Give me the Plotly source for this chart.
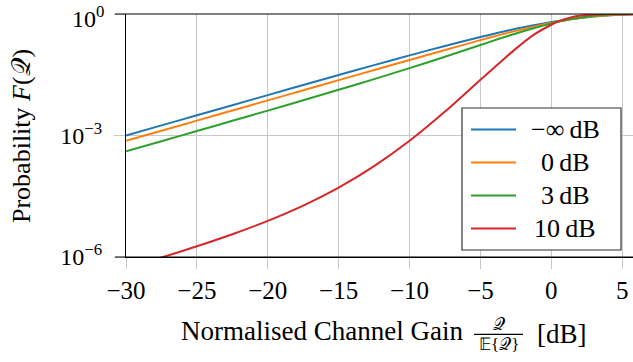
import plotly.graph_objects as go

# ---------------- data ----------------
x_db = [-30, -27.5, -25, -22.5, -20, -17.5, -15, -12.5, -10, -7.5, -5, -3.75,
        -2.5, -1.25, 0, 0.5, 1, 1.5, 2, 2.5, 3, 4, 5, 6]

f_minf = [9.995e-4, 1.776e-3, 3.157e-3, 5.607e-3, 9.950e-3, 1.763e-2, 3.113e-2,
          5.468e-2, 9.516e-2, 0.1629, 0.2711, 0.3440, 0.4301, 0.5276, 0.6321,
          0.6744, 0.7161, 0.7565, 0.7950, 0.8311, 0.8640, 0.9189, 0.9577, 0.9813]

f_0db = [7.358e-4, 1.308e-3, 2.327e-3, 4.137e-3, 7.358e-3, 1.308e-2, 2.326e-2,
         4.133e-2, 7.335e-2, 0.1296, 0.2264, 0.297, 0.3835, 0.488, 0.6057,
         0.656, 0.7034, 0.752, 0.7963, 0.838, 0.8759, 0.935, 0.970, 0.988]

f_3db = [4.066e-4, 7.239e-4, 1.290e-3, 2.302e-3, 4.120e-3, 7.409e-3, 1.343e-2,
         2.465e-2, 4.610e-2, 8.82e-2, 0.1718, 0.241, 0.3305, 0.445, 0.5853,
         0.645, 0.700, 0.758, 0.8101, 0.858, 0.900, 0.957, 0.985, 0.996]

f_10db = [5.24e-7, 9.68e-7, 1.836e-6, 3.647e-6, 7.79e-6, 1.858e-5, 5.167e-5,
          1.747e-4, 7.387e-4, 3.892e-3, 2.381e-2, 0.058, 0.1396, 0.305, 0.5431,
          0.655, 0.755, 0.84, 0.905, 0.945, 0.975, 0.996, 0.9997, 0.99999]

series_labels = ["\u2212\u221e\u2009dB", "0\u2009dB", "3\u2009dB", "10\u2009dB"]
series_values = [f_minf, f_0db, f_3db, f_10db]
series_colors = ["#1f77b4", "#ff7f0e", "#2ca02c", "#d62728"]

x_ticks = [-30, -25, -20, -15, -10, -5, 0, 5]
x_ticktext = ["\u221230", "\u221225", "\u221220", "\u221215", "\u221210", "\u22125", "0", "5"]
y_ticks = [1e-6, 1e-3, 1e0]
y_ticktext = ["10<sup>\u22126</sup>", "10<sup>\u22123</sup>", ""]
y_top_label = "10<sup>0</sup>"

# ---------------- layout geometry ----------------
W, H = 633, 362
ML, MR, MT, MB = 126, 0, 14, 105
PW, PH = W - ML - MR, H - MT - MB
FONT = "Liberation Serif, Times New Roman, serif"


def px_x(px):
    return (px - ML) / PW


def px_y(py):
    return (H - MB - py) / PH


fig = go.Figure()
for vals, col in zip(series_values, series_colors):
    fig.add_trace(go.Scatter(x=x_db, y=vals, mode="lines",
                             line=dict(color=col, width=2, shape="spline", smoothing=0.6),
                             showlegend=False, hoverinfo="skip"))

grid = "#c8c8c8"
fig.update_layout(
    width=W, height=H,
    margin=dict(l=ML, r=MR, t=MT, b=MB, autoexpand=False),
    paper_bgcolor="white", plot_bgcolor="white",
    font=dict(family=FONT, color="black", size=24),
    showlegend=False,
    xaxis=dict(range=[-30, 5.76], tickvals=x_ticks, ticktext=x_ticktext,
               showgrid=True, gridcolor=grid, gridwidth=1,
               ticks="outside", ticklen=11, tickcolor=grid, tickwidth=1,
               showline=True, linecolor="black", linewidth=1, zeroline=False,
               tickfont=dict(family=FONT, size=25), ticklabelstandoff=0,
               ticklabeloverflow="allow", automargin=False),
    yaxis=dict(type="log", range=[-6, 0], tickvals=y_ticks, ticktext=y_ticktext,
               showgrid=True, gridcolor=grid, gridwidth=1,
               ticks="outside", ticklen=11, tickcolor=grid, tickwidth=1,
               showline=True, linecolor="black", linewidth=1, zeroline=False,
               tickfont=dict(family=FONT, size=24), ticklabelstandoff=7,
               ticklabeloverflow="allow", automargin=False),
)

shapes = []
# top and bottom frame lines extending to tick length
for yy in (0, 1):
    shapes.append(dict(type="line", xref="paper", yref="paper",
                       x0=px_x(115), x1=1, y0=yy, y1=yy,
                       line=dict(color="black", width=1)))

annotations = []
# top y tick label placed so that it stays inside the picture
annotations.append(dict(xref="paper", yref="paper", x=px_x(106), y=px_y(0.5),
                        text=y_top_label, showarrow=False, xanchor="right", yanchor="top",
                        font=dict(family=FONT, size=24)))

# legend box
shapes.append(dict(type="rect", xref="paper", yref="paper",
                   x0=px_x(462), x1=px_x(621), y0=px_y(250), y1=px_y(108),
                   fillcolor="white", line=dict(color="#333333", width=1.2)))
leg_y = [129.5, 162.5, 195.5, 228.5]
for lab, col, ly in zip(series_labels, series_colors, leg_y):
    shapes.append(dict(type="line", xref="paper", yref="paper",
                       x0=px_x(471), x1=px_x(516), y0=px_y(ly), y1=px_y(ly),
                       line=dict(color=col, width=2)))
    annotations.append(dict(xref="paper", yref="paper", x=px_x(565), y=px_y(ly),
                            text=lab, showarrow=False, xanchor="center", yanchor="middle",
                            font=dict(family=FONT, size=26)))

# y-axis title
annotations.append(dict(xref="paper", yref="paper", x=px_x(21), y=px_y(136),
                        text="Probability <i>F</i>(\U0001D4AC)", textangle=-90,
                        showarrow=False, xanchor="center", yanchor="middle",
                        font=dict(family=FONT, size=26)))

# x-axis title with fraction
annotations.append(dict(xref="paper", yref="paper", x=px_x(179), y=px_y(331),
                        text="Normalised Channel Gain", showarrow=False,
                        xanchor="left", yanchor="middle", font=dict(family=FONT, size=27)))
annotations.append(dict(xref="paper", yref="paper", x=px_x(498.5), y=px_y(324),
                        text="\U0001D4AC", showarrow=False,
                        xanchor="center", yanchor="middle", font=dict(family=FONT, size=17)))
annotations.append(dict(xref="paper", yref="paper", x=px_x(498.5), y=px_y(344.5),
                        text="\U0001D53C{\U0001D4AC}", showarrow=False,
                        xanchor="center", yanchor="middle", font=dict(family=FONT, size=17)))
shapes.append(dict(type="line", xref="paper", yref="paper",
                   x0=px_x(474), x1=px_x(523), y0=px_y(334.3), y1=px_y(334.3),
                   line=dict(color="black", width=1.2)))
annotations.append(dict(xref="paper", yref="paper", x=px_x(535), y=px_y(333.5),
                        text="[dB]", showarrow=False,
                        xanchor="left", yanchor="middle", font=dict(family=FONT, size=27)))

fig.update_layout(shapes=shapes, annotations=annotations)
fig.write_html("out.html")
